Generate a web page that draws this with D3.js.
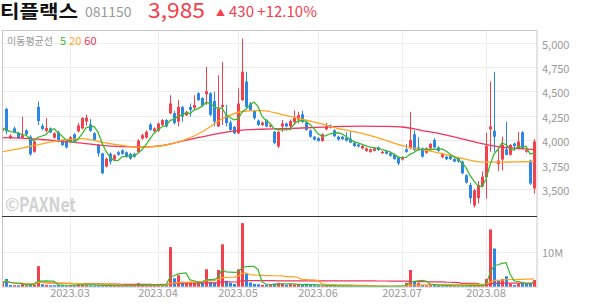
<!DOCTYPE html>
<html>
<head>
<meta charset="utf-8">
<script src="https://cdn.jsdelivr.net/npm/d3@7"></script>
<style>
body { margin: 0; background: #fff; }
svg { display: block; }
text { font-family: "Noto Sans CJK KR", "Noto Sans", sans-serif; }
</style>
</head>
<body>
<svg width="594" height="304"></svg>
<script>
// daily candles, 2023-02-06 .. 2023-08-18
var opens = [4095,4320,4020,4120,4075,4025,4100,4035,3880,4340, 4145,4095,4120,4025,4080,4000,3980,3985,4060,4090,
  4120,4190,4160,4070,3950,3865,3730,3860,3800,3875, 3895,3875,3860,3860,3880,4015,4025,4160,4090,4095,
  4155,4205,4275,4275,4190,4340,4255,4340,4330,4480, 4430,4470,4480,4400,4140,4340,4255,4180,4135,4070,
  4410,4600,4375,4300,4200,4155,4205,4140,4085,3935, 4140,4170,4140,4185,4210,4265,4180,4100,4035,4020,
  3990,4110,4150,4100,4035,4035,4025,4015,3975,3955, 3915,3890,3880,3890,3925,3865,3885,3865,3850,3825,
  3800,3905,3915,4060,3925,3915,3870,3915,4000,3925, 3825,3830,3845,3805,3815,3780,3640,3540,3330,3405,
  3525,3620,4110,4095,3755,3800,3905,3850,3965,3915, 4080,3880,3790,3505];
var highs = [4140,4330,4060,4140,4085,4240,4110,4050,4000,4395, 4170,4225,4130,4080,4095,4010,3990,4040,4070,4175,
  4235,4260,4215,4080,3960,3870,3820,3875,3855,3890, 3905,3885,3870,3870,4010,4065,4100,4175,4130,4180,
  4215,4215,4460,4300,4410,4350,4300,4375,4460,4490, 4440,4750,4490,4495,4665,4800,4360,4200,4145,4530,
  5040,4700,4390,4310,4210,4190,4215,4165,4095,4090, 4205,4180,4210,4305,4290,4300,4190,4110,4040,4030,
  4070,4175,4160,4110,4045,4045,4080,4090,3985,3965, 3950,3925,3915,3925,3935,3890,3895,3875,3860,3830,
  3835,3960,4290,4100,4030,3925,3925,3970,4020,3935, 3870,3840,3855,3815,3825,3790,3650,3560,3500,3580,
  3680,4075,4600,4700,3930,4035,4190,3960,3975,4085, 4090,3910,3800,4010];
var lows = [4020,4060,4010,4070,4010,4015,4050,3840,3870,4155, 4100,4080,4070,4015,3975,3940,3915,3975,3985,4080,
  4110,4150,4085,3995,3830,3650,3720,3750,3790,3840, 3850,3820,3800,3820,3870,4005,4015,4095,4080,4085,
  4145,4130,4265,4160,4140,4190,4245,4240,4310,4400, 4340,4360,4245,4140,4135,4155,4140,4095,4060,4060,
  4400,4330,4300,4210,4145,4145,4130,4130,3960,3920, 4085,4130,4100,4160,4170,4175,4095,4025,3995,3985,
  3985,4100,4120,4030,3995,4000,3985,3970,3930,3925, 3905,3880,3870,3885,3890,3860,3855,3830,3800,3745,
  3790,3870,3905,3885,3895,3820,3860,3905,3915,3880, 3815,3795,3795,3775,3770,3650,3555,3350,3310,3350,
  3515,3400,3880,3880,3680,3690,3845,3840,3900,3905, 3905,3870,3540,3450];
var closes = [4125,4090,4045,4080,4020,4050,4060,3855,3985,4195, 4115,4125,4080,4070,3985,3950,3925,4030,3990,4150,
  4225,4230,4095,4000,3865,3660,3810,3780,3845,3850, 3860,3830,3810,3830,3995,4050,4085,4105,4120,4170,
  4205,4140,4375,4175,4340,4240,4290,4310,4360,4410, 4355,4500,4260,4190,4325,4360,4175,4105,4070,4375,
  4700,4340,4310,4225,4155,4180,4140,4155,3970,4085, 4170,4140,4195,4225,4255,4185,4105,4035,4005,3990,
  4060,4140,4130,4040,4005,4010,3995,3975,3940,3935, 3940,3915,3905,3915,3898,3880,3860,3840,3805,3760,
  3825,3880,4000,3900,3900,3830,3915,3960,3925,3890, 3860,3805,3805,3780,3780,3660,3565,3405,3485,3540,
  3625,3940,4140,4035,3790,3950,3850,3950,3940,3985, 3915,3895,3555,3985];
// volume, millions of shares
var volumes = [1.2,2.3,0.6,0.5,0.5,1.0,0.5,0.7,0.6,6.0, 0.8,0.6,0.5,0.5,0.6,0.5,0.4,0.5,0.4,1.1,
  0.7,0.5,0.4,0.4,0.5,0.6,0.4,0.3,0.3,0.3, 0.3,0.3,0.3,0.3,1.1,0.4,0.5,0.5,0.4,0.8,
  0.8,0.6,11.5,2.5,3.4,1.5,1.4,1.4,1.3,1.4, 1.2,5.1,1.5,1.3,4.9,12.3,1.8,1.2,0.9,5.1,
  18.4,3.9,1.3,0.9,0.8,0.6,0.7,0.6,1.0,1.2, 1.0,0.6,0.9,0.7,0.7,0.6,0.9,0.6,0.5,0.5,
  0.4,0.4,0.3,0.3,0.3,0.3,0.3,0.3,0.2,0.2, 0.2,0.2,0.2,0.2,0.2,0.2,0.2,0.2,0.3,0.3,
  0.2,1.2,4.9,1.5,1.2,0.6,0.5,0.5,0.6,0.5, 0.4,0.3,0.3,0.3,0.3,0.4,0.4,0.5,0.4,0.3,
  0.3,2.3,16.6,11.1,1.8,2.3,3.1,0.9,0.6,1.0, 1.0,1.0,0.9,2.0];

// 20 and 60 day averages (they need history before the window)
var maIdx = [0,5,10,15,20,25,30,35,40,45,50,55,60,65,70,75,80,85,90,95,100,105,110,115,120,125,130,133];
var ma20 = [3880,3918,3962,3999,4015,3978,3946,3927,3942,3992,4083,4216,4293,4303,4262,4216,4165,4109,4069,4011,3944,3903,3862,3812,3775,3775,3778,3780];
var ma60 = [4026,4021,4006,3988,3970,3947,3934,3929,3944,3990,4033,4075,4103,4111,4117,4124,4132,4140,4144,4141,4134,4098,4062,4013,3965,3929,3912,3903];

var monthLabels = ["2023.03","2023.04","2023.05","2023.06","2023.07","2023.08"];
var monthStart = [17, 39, 59, 79, 100, 121];
var priceTicks = [3500, 3750, 4000, 4250, 4500, 4750, 5000];
var volTicks = [10];

var RED = "#f2404d", BLUE = "#2b86e5", GREEN = "#3cb830", ORANGE = "#ffa51f", PINK = "#f0345c";

var svg = d3.select("svg"),
    width = +svg.attr("width"),
    height = +svg.attr("height");

var n = closes.length;
var x = d3.scaleBand().domain(d3.range(n)).range([0, 536]);
function cx(i) { return x(i) + x.bandwidth() / 2; }
var y = d3.scaleLinear().domain([3500, 5000]).range([188.9, 42.5]);
var yv = d3.scaleLinear().domain([0, 10]).range([287, 252.3]);

function movingAvg(arr, len) {
    return arr.map(function(d, i) { return d3.mean(arr.slice(Math.max(0, i - len + 1), i + 1)); });
}
var ma5 = movingAvg(closes, 5);

var defs = svg.append("defs");
defs.append("clipPath").attr("id", "clipPrice").append("rect")
    .attr("x", 2).attr("y", 30).attr("width", 535).attr("height", 186);
defs.append("clipPath").attr("id", "clipVol").append("rect")
    .attr("x", 2).attr("y", 217).attr("width", 535).attr("height", 70);

// grid
var grid = svg.append("g").attr("stroke", "#ececec").attr("stroke-width", 1);
grid.selectAll("line.h")
    .data(priceTicks)
    .enter().append("line")
    .attr("x1", 2).attr("x2", 537)
    .attr("y1", function(d) { return Math.round(y(d)) + 0.5; })
    .attr("y2", function(d) { return Math.round(y(d)) + 0.5; });
grid.selectAll("line.v")
    .data(monthStart)
    .enter().append("line")
    .attr("x1", function(d) { return Math.round(cx(d)) + 0.5; })
    .attr("x2", function(d) { return Math.round(cx(d)) + 0.5; })
    .attr("y1", 30).attr("y2", 287);
grid.selectAll("line.vv")
    .data(volTicks)
    .enter().append("line")
    .attr("x1", 2).attr("x2", 537)
    .attr("y1", function(d) { return Math.round(yv(d)) + 0.5; })
    .attr("y2", function(d) { return Math.round(yv(d)) + 0.5; });

// watermark
var wm = svg.append("g").attr("fill", "#d2d2d2").attr("font-weight", "bold");
wm.append("text").attr("x", 5).attr("y", 211).attr("font-size", 17).text("©");
wm.append("text").attr("x", 19).attr("y", 211.5).attr("font-size", 20)
    .attr("textLength", 57).attr("lengthAdjust", "spacingAndGlyphs")
    .attr("font-family", "Liberation Sans, Arial, sans-serif").text("PAXNet");

// candles
var candles = svg.append("g").attr("clip-path", "url(#clipPrice)")
    .selectAll("g")
    .data(d3.range(n))
    .enter().append("g")
    .attr("fill", function(i) { return closes[i] >= opens[i] ? RED : BLUE; })
    .attr("stroke", function(i) { return closes[i] >= opens[i] ? RED : BLUE; });

candles.append("line")
    .attr("x1", function(i) { return Math.round(cx(i)) + 0.5; })
    .attr("x2", function(i) { return Math.round(cx(i)) + 0.5; })
    .attr("y1", function(i) { return y(highs[i]); })
    .attr("y2", function(i) { return y(lows[i]); })
    .attr("stroke-width", 1);

candles.append("rect")
    .attr("stroke", "none")
    .attr("x", function(i) { return Math.round(cx(i)) - 1; })
    .attr("width", 3)
    .attr("y", function(i) { return y(Math.max(opens[i], closes[i])); })
    .attr("height", function(i) { return Math.max(1, Math.abs(y(opens[i]) - y(closes[i]))); });

// moving averages
var priceLines = svg.append("g").attr("clip-path", "url(#clipPrice)").attr("fill", "none").attr("stroke-width", 1.3);
var smooth = d3.line().x(function(d) { return cx(d[0]); }).y(function(d) { return y(d[1]); }).curve(d3.curveMonotoneX);
priceLines.append("path").attr("stroke", PINK)
    .attr("d", smooth(maIdx.map(function(d, k) { return [d, ma60[k]]; })));
priceLines.append("path").attr("stroke", ORANGE)
    .attr("d", smooth(maIdx.map(function(d, k) { return [d, ma20[k]]; })));
priceLines.append("path").attr("stroke", GREEN)
    .attr("d", d3.line().x(function(d, i) { return cx(i); }).y(function(d) { return y(d); })(ma5));

// volume
function volUp(i) { return closes[i] >= (i > 0 ? closes[i - 1] : opens[i]); }
var vol = svg.append("g").attr("clip-path", "url(#clipVol)");
vol.selectAll("rect")
    .data(d3.range(n))
    .enter().append("rect")
    .attr("x", function(i) { return Math.round(cx(i)) - 1; })
    .attr("width", 3)
    .attr("y", function(i) { return yv(volumes[i]); })
    .attr("height", function(i) { return yv(0) - yv(volumes[i]); })
    .attr("fill", function(i) { return volUp(i) ? RED : BLUE; });

var vline = d3.line().x(function(d, i) { return cx(i); }).y(function(d) { return yv(d); });
vol.append("path").attr("fill", "none").attr("stroke", PINK).attr("stroke-width", 1.2).attr("d", vline(movingAvg(volumes, 60)));
vol.append("path").attr("fill", "none").attr("stroke", ORANGE).attr("stroke-width", 1.2).attr("d", vline(movingAvg(volumes, 20)));
vol.append("path").attr("fill", "none").attr("stroke", GREEN).attr("stroke-width", 1.2).attr("d", vline(movingAvg(volumes, 5)));

// frame
svg.append("rect").attr("x", 2.5).attr("y", 30.5).attr("width", 534.5).attr("height", 256.5)
    .attr("fill", "none").attr("stroke", "#c8c8c8");
svg.append("line").attr("x1", 2).attr("x2", 537).attr("y1", 216.5).attr("y2", 216.5).attr("stroke", "#333");

// axis labels
svg.append("g").selectAll("text")
    .data(priceTicks)
    .enter().append("text")
    .attr("x", 542).attr("y", function(d) { return y(d) + 6; })
    .attr("font-size", 11).attr("fill", "#999")
    .text(d3.format(","));
svg.append("g").selectAll("text")
    .data(volTicks)
    .enter().append("text")
    .attr("x", 542).attr("y", function(d) { return yv(d) + 5; })
    .attr("font-size", 11).attr("fill", "#999")
    .text(function(d) { return d + "M"; });
svg.append("g").selectAll("text")
    .data(monthStart)
    .enter().append("text")
    .attr("x", function(d) { return cx(d); }).attr("y", 297)
    .attr("text-anchor", "middle").attr("font-size", 11).attr("fill", "#999")
    .text(function(d, k) { return monthLabels[k]; });

// legend
var legend = svg.append("text").attr("x", 7).attr("y", 45).attr("font-size", 10);
legend.append("tspan").attr("fill", "#999").text("이동평균선");
legend.append("tspan").attr("dx", 7).attr("fill", GREEN).attr("font-size", 11).text("5");
legend.append("tspan").attr("dx", 3).attr("fill", ORANGE).attr("font-size", 11).text("20");
legend.append("tspan").attr("dx", 3).attr("fill", PINK).attr("font-size", 11).text("60");

// header
var last = closes[n - 1], prev = closes[n - 2], chg = last - prev;
svg.append("text").attr("x", 0).attr("y", 17.5).attr("font-size", 18).attr("font-weight", "bold").attr("fill", "#111")
    .attr("textLength", 78).attr("lengthAdjust", "spacingAndGlyphs").text("티플랙스");
svg.append("text").attr("x", 85).attr("y", 16.5).attr("font-size", 14).attr("fill", "#999").text("081150");
svg.append("text").attr("x", 148).attr("y", 18).attr("font-size", 21).attr("fill", RED)
    .attr("textLength", 57).attr("lengthAdjust", "spacingAndGlyphs").text(d3.format(",")(last));
svg.append("text").attr("x", 216).attr("y", 15.5).attr("font-size", 9).attr("fill", RED).text("▲");
svg.append("text").attr("x", 229).attr("y", 16.5).attr("font-size", 15).attr("fill", RED)
    .text(chg + "  +" + d3.format(".2f")(chg / prev * 100) + "%");
</script>
</body>
</html>
